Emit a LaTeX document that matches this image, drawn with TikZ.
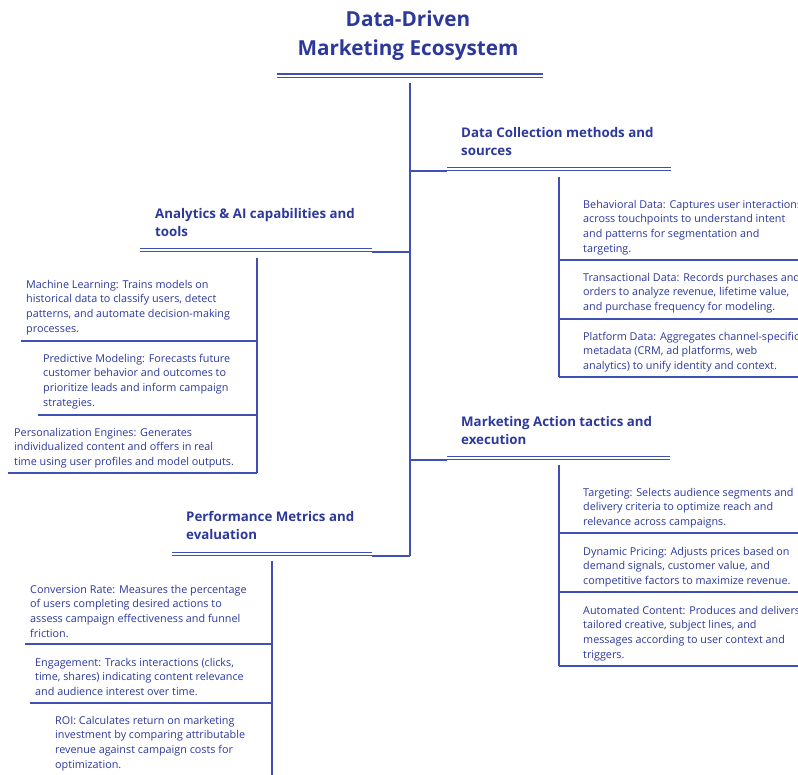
\documentclass[tikz,border=0pt]{standalone}
\usepackage{fontspec}
\setmainfont{Open Sans}
\definecolor{txt}{RGB}{44,56,154}
\definecolor{ln}{RGB}{63,81,181}
\begin{document}
\begin{tikzpicture}[x=1pt,y=-1pt,
  titlest/.style={anchor=north,align=center,inner sep=0pt,text=txt,font=\fontsize{20.7}{29}\selectfont\bfseries},
  headst/.style={anchor=north west,align=left,inner sep=0pt,text=txt,font=\fontsize{13.3}{18}\selectfont\bfseries},
  bodyst/.style={anchor=north west,align=left,inner sep=0pt,text=txt,font=\fontsize{10.8}{14.7}\selectfont},
  dbl/.style={draw=ln,line width=1.2pt,double=white,double distance=2.2pt},
  trunk/.style={draw=ln,line width=1.8pt},
  branch/.style={draw=ln,line width=1.6pt},
  rule/.style={draw=ln,line width=1.3pt}]
\useasboundingbox (0,0) rectangle (798,775);

% Title
\node[titlest] (title) at (408,10.5) {Data-Driven\\Marketing Ecosystem};
\coordinate (tl) at (277,75.8); \coordinate (tr) at (543,75.8);
\draw[dbl] (tl) -- (tr);

% trunk
\coordinate (t0) at (410,83); \coordinate (t1) at (410,171);
\coordinate (t2) at (410,252); \coordinate (t3) at (410,460);
\coordinate (t4) at (410,556);
\draw[trunk] (t0) -- (t4);

% ---------- Data Collection ----------
\node[headst] (dc) at (461,127.5) {Data Collection methods and\\sources};
\coordinate (dcl) at (447,169); \coordinate (dcr) at (671,169);
\draw[dbl] (dcl) -- (dcr);
\coordinate (dcc) at (447,171);
\draw[rule] (t1) -- (dcc);
\coordinate (dv0) at (559,177); \coordinate (dv1) at (559,377);
\draw[branch] (dv0) -- (dv1);
\coordinate (dh1) at (559,260); \coordinate (dh1r) at (800,260);
\coordinate (dh2) at (559,319); \coordinate (dh2r) at (800,319);
\coordinate (dh3r) at (800,377);
\draw[rule] (dh1) -- (dh1r); \draw[rule] (dh2) -- (dh2r); \draw[rule] (dv1) -- (dh3r);
\node[bodyst] (beh) at (583,199.7) {Behavioral Data: Captures user interactions\\across touchpoints to understand intent\\and patterns for segmentation and\\targeting.};
\node[bodyst] (trn) at (583,272.7) {Transactional Data: Records purchases and\\orders to analyze revenue, lifetime value,\\and purchase frequency for modeling.};
\node[bodyst] (plt) at (583,331.7) {Platform Data: Aggregates channel-specific\\metadata (CRM, ad platforms, web\\analytics) to unify identity and context.};

% ---------- Analytics ----------
\node[headst] (an) at (155,208.5) {Analytics \& AI capabilities and\\tools};
\coordinate (anl) at (140,250); \coordinate (anr) at (372,250);
\draw[dbl] (anl) -- (anr);
\coordinate (anc) at (372,252);
\draw[rule] (anc) -- (t2);
\coordinate (av0) at (257,258); \coordinate (av1) at (257,473);
\draw[branch] (av0) -- (av1);
\coordinate (ah1) at (257,341); \coordinate (ah1l) at (21,341);
\coordinate (ah2) at (257,415); \coordinate (ah2l) at (38,415);
\coordinate (ah3l) at (8,473);
\draw[rule] (ah1l) -- (ah1); \draw[rule] (ah2l) -- (ah2); \draw[rule] (ah3l) -- (av1);
\node[bodyst] (ml) at (26,279.7) {Machine Learning: Trains models on\\historical data to classify users, detect\\patterns, and automate decision-making\\processes.};
\node[bodyst] (pm) at (43,353.7) {Predictive Modeling: Forecasts future\\customer behavior and outcomes to\\prioritize leads and inform campaign\\strategies.};
\node[bodyst] (pe) at (14,427.7) {Personalization Engines: Generates\\individualized content and offers in real\\time using user profiles and model outputs.};

% ---------- Marketing Action ----------
\node[headst] (ma) at (461,416.5) {Marketing Action tactics and\\execution};
\coordinate (mal) at (447,458); \coordinate (mar) at (670,458);
\draw[dbl] (mal) -- (mar);
\coordinate (mac) at (447,460);
\draw[rule] (t3) -- (mac);
\coordinate (mv0) at (559,465); \coordinate (mv1) at (559,666);
\draw[branch] (mv0) -- (mv1);
\coordinate (mh1) at (559,533); \coordinate (mh1r) at (800,533);
\coordinate (mh2) at (559,592); \coordinate (mh2r) at (800,592);
\coordinate (mh3r) at (800,666);
\draw[rule] (mh1) -- (mh1r); \draw[rule] (mh2) -- (mh2r); \draw[rule] (mv1) -- (mh3r);
\node[bodyst] (tg) at (583,487.7) {Targeting: Selects audience segments and\\delivery criteria to optimize reach and\\relevance across campaigns.};
\node[bodyst] (dp) at (583,546.7) {Dynamic Pricing: Adjusts prices based on\\demand signals, customer value, and\\competitive factors to maximize revenue.};
\node[bodyst] (ac) at (583,605.7) {Automated Content: Produces and delivers\\tailored creative, subject lines, and\\messages according to user context and\\triggers.};

% ---------- Performance ----------
\node[headst] (pf) at (186,511.5) {Performance Metrics and\\evaluation};
\coordinate (pfl) at (172,554); \coordinate (pfr) at (372,554);
\draw[dbl] (pfl) -- (pfr);
\coordinate (pfc) at (372,556);
\draw[rule] (pfc) -- (t4);
\coordinate (pv0) at (272,561); \coordinate (pv1) at (272,776);
\draw[branch] (pv0) -- (pv1);
\coordinate (ph1) at (272,644); \coordinate (ph1l) at (25,644);
\coordinate (ph2) at (272,703); \coordinate (ph2l) at (30,703);
\draw[rule] (ph1l) -- (ph1); \draw[rule] (ph2l) -- (ph2);
\node[bodyst] (cr) at (30,584.7) {Conversion Rate: Measures the percentage\\of users completing desired actions to\\assess campaign effectiveness and funnel\\friction.};
\node[bodyst] (en) at (35,657.7) {Engagement: Tracks interactions (clicks,\\time, shares) indicating content relevance\\and audience interest over time.};
\node[bodyst] (roi) at (55,715.7) {ROI: Calculates return on marketing\\investment by comparing attributable\\revenue against campaign costs for\\optimization.};
\end{tikzpicture}
\end{document}
